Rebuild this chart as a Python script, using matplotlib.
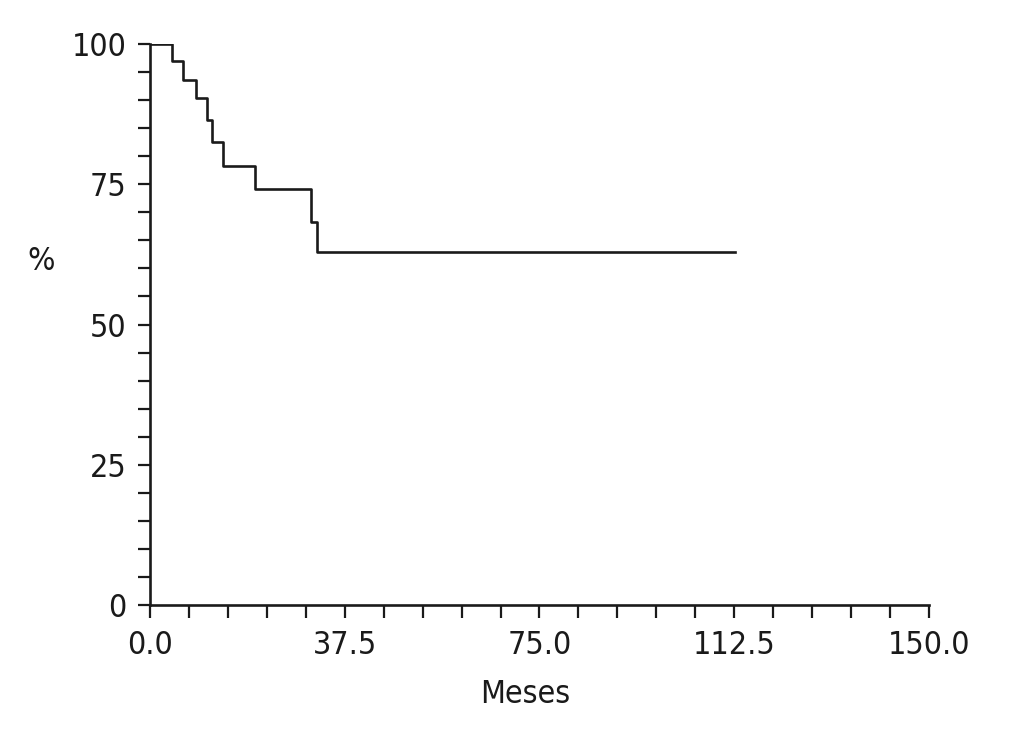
import numpy as np
import matplotlib as mpl
mpl.use('Agg')
import matplotlib.pyplot as plt
from matplotlib.ticker import MultipleLocator, FormatStrFormatter

# step times (months) and survival (%)
meses = [0.0, 4.2, 6.3, 8.8, 11.0, 11.9, 14.0, 20.2, 31.1, 32.1, 112.6]
surv = [100.0, 97.0, 93.6, 90.4, 86.5, 82.6, 78.3, 74.1, 68.2, 63.0, 63.0]

plt.rcParams['font.family'] = ['Liberation Sans Narrow', 'DejaVu Sans']
plt.rcParams['font.stretch'] = 'condensed'

fig = plt.figure(figsize=(10.16, 7.5), dpi=100)
ax = fig.add_axes([0.1476, 0.1933, 0.7668, 0.748])

ax.step(meses, surv, where='post', color='#1a1a1a', lw=1.9)

ax.set_xlim(0, 150)
ax.set_ylim(0, 100)
ax.xaxis.set_major_locator(MultipleLocator(37.5))
ax.xaxis.set_minor_locator(MultipleLocator(7.5))
ax.xaxis.set_major_formatter(FormatStrFormatter('%.1f'))
ax.yaxis.set_major_locator(MultipleLocator(25))
ax.yaxis.set_minor_locator(MultipleLocator(5))

ax.spines['top'].set_visible(False)
ax.spines['right'].set_visible(False)
for s in ['left', 'bottom']:
    ax.spines[s].set_linewidth(1.9)
    ax.spines[s].set_color('#1a1a1a')

ax.tick_params(which='both', direction='out', length=9, width=1.6, color='#1a1a1a')
ax.tick_params(axis='x', which='major', labelsize=23, pad=9, labelcolor='#1a1a1a')
ax.tick_params(axis='y', which='major', labelsize=23, pad=8, labelcolor='#1a1a1a')

ax.set_xlabel('Meses', fontsize=23, color='#1a1a1a', va='center')
ax.xaxis.set_label_coords(0.482, -0.16)
ax.set_ylabel('%', fontsize=23, rotation=0, va='center', color='#1a1a1a')
ax.yaxis.set_label_coords(-0.14, 0.613)

plt.savefig('out.png', dpi=100)
